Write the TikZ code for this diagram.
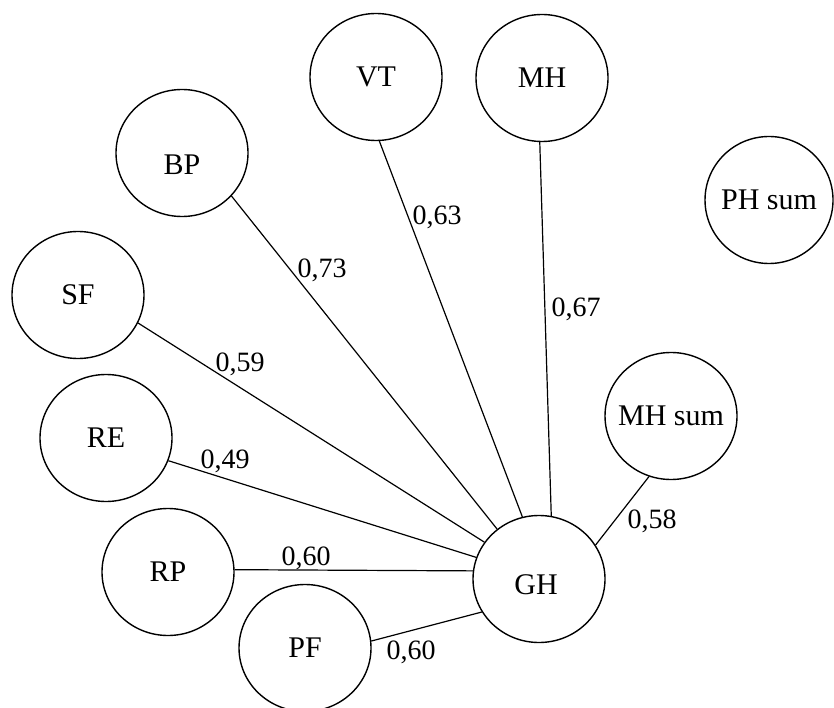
\documentclass[tikz,border=0pt]{standalone}
\usepackage{fontspec}
\setmainfont{Liberation Serif}
\usetikzlibrary{shapes.geometric}
\begin{document}
\begin{tikzpicture}[x=1pt,y=-1pt,
  var/.style={ellipse,draw,line width=1.4pt,minimum width=132pt,minimum height=127pt,
    inner sep=0pt,font=\fontsize{30}{34}\selectfont},
  wide/.style={inner xsep=-12pt},
  name text/.style={inner sep=0pt,font=\fontsize{30}{34}\selectfont},
  link/.style={line width=1.2pt},
  coef/.style={inner sep=0pt,font=\fontsize{28}{32}\selectfont}]
\useasboundingbox (0,0) rectangle (834,708);
% variables
\node[var] (VT) at (376,77) {VT};
\node[var] (MH) at (542,78) {MH};
\node[var] (BP) at (182,153) {};
\node[name text] (BPt) at (182,165) {BP};
\node[var,wide,minimum width=128pt] (PHs) at (769,200) {PH sum};
\node[var] (SF) at (78,295) {SF};
\node[var] (RE) at (106,438) {RE};
\node[var,wide] (MHs) at (671,416) {MH sum};
\node[var] (RP) at (168,572) {RP};
\node[var] (GH) at (539,579) {};
\node[name text] (GHt) at (536,585) {GH};
\node[var] (PF) at (305,648) {PF};
% correlations with GH
\draw[link] (VT.-87) -- (GH.105);
\draw[link] (MH.-92) -- (GH.79);
\draw[link] (BP.-41) -- (GH.130);
\draw[link] (SF.-25) -- (GH.146);
\draw[link] (RE.-20) -- (GH.161);
\draw[link] (RP.2) -- (GH.173);
\draw[link] (PF.6) -- (GH.210);
\draw[link] (MHs.250) -- (GH.31);
% coefficients
\node[coef] (c1) at (322,270) {0,73};
\node[coef] (c2) at (437,217) {0,63};
\node[coef] (c3) at (576,309) {0,67};
\node[coef] (c4) at (240,364) {0,59};
\node[coef] (c5) at (225,461) {0,49};
\node[coef] (c6) at (306,558) {0,60};
\node[coef] (c7) at (411,652) {0,60};
\node[coef] (c8) at (652,521) {0,58};
\end{tikzpicture}
\end{document}
